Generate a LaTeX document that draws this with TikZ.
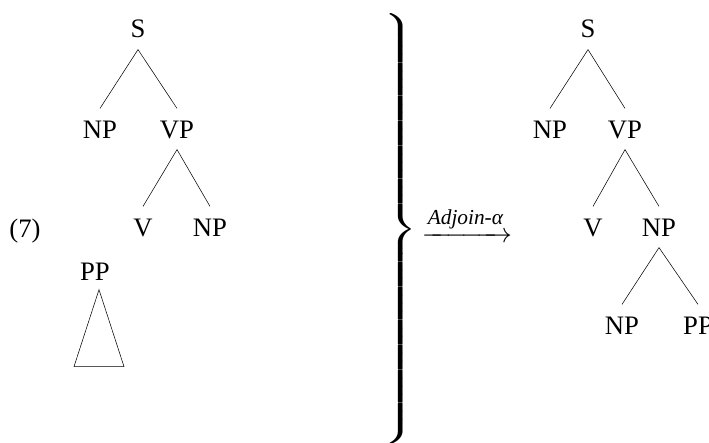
\documentclass[tikz,border=0pt]{standalone}
\usepackage{amsmath}
\usepackage{exscale}
\usepackage{graphicx}
\usepackage{fontspec}
\setmainfont{Liberation Serif}
\usepackage{tikz}

\begin{document}
\begin{tikzpicture}[x=0.75pt, y=-0.75pt,
    every node/.style={font=\fontsize{20}{24}\selectfont},
    cat/.style={inner xsep=1pt, inner ysep=8.5pt, text height=13.5pt, text depth=0pt}]
            \useasboundingbox (0,0) rectangle (709,442);
            % left: before adjunction
            \node (ex) at (25, 231) {(7)};
            \node[cat] (S1) at (138, 29) {S};
            \node[cat] (NP1) at (100, 129) {NP};
            \node[cat] (VP1) at (177, 129) {VP};
            \node[cat] (V1) at (143, 227) {V};
            \node[cat] (NPo1) at (210, 227) {NP};
            \node[cat] (PP1) at (95, 271) {PP};
            \draw (S1.south) -- (NP1.north);
            \draw (S1.south) -- (VP1.north);
            \draw (VP1.south) -- (V1.north);
            \draw (VP1.south) -- (NPo1.north);
            \draw (PP1.south) ++(4,-2) -- ++(-25,77) -- ++(50,0) -- cycle;

            % brace and arrow
            \node[inner sep=0pt] (br) at (400, 229) {\scalebox{1.4}[1]{$\left.\vcenter{\hbox{\rule{0pt}{320pt}}}\right\}$}};
            \node[anchor=base] (adj) at (467, 242) {$\xrightarrow{\hbox{\fontsize{16}{18}\selectfont\itshape Adjoin-α}}$};

            % right: after adjunction
            \node[cat] (S2) at (588, 29) {S};
            \node[cat] (NP2) at (550, 129) {NP};
            \node[cat] (VP2) at (625, 129) {VP};
            \node[cat] (V2) at (593, 227) {V};
            \node[cat] (NPo2) at (659, 227) {NP};
            \node[cat] (NPa2) at (622, 325) {NP};
            \node[cat] (PP2) at (698, 325) {PP};
            \draw (S2.south) -- (NP2.north);
            \draw (S2.south) -- (VP2.north);
            \draw (VP2.south) -- (V2.north);
            \draw (VP2.south) -- (NPo2.north);
            \draw (NPo2.south) -- (NPa2.north);
            \draw (NPo2.south) -- (PP2.north);

        \end{tikzpicture}
\end{document}
